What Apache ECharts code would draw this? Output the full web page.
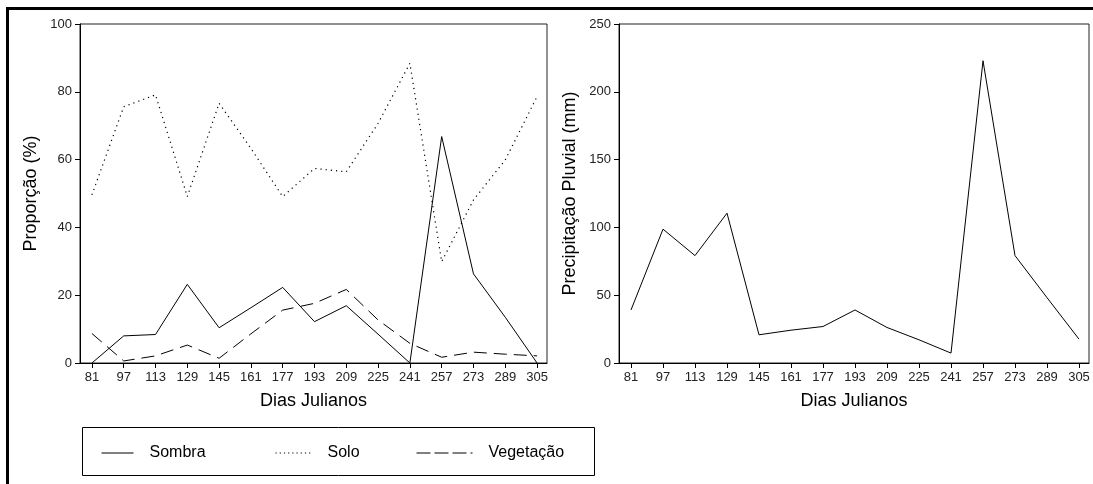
<!DOCTYPE html>
<html>
<head>
<meta charset="utf-8">
<script src="https://cdn.jsdelivr.net/npm/echarts@6/dist/echarts.min.js"></script>
<style>
html,body{margin:0;padding:0;background:#fff;}
#c{width:1093px;height:484px;}
</style>
</head>
<body>
<div id="c"></div>
<script>
const days = [81, 97, 113, 129, 145, 161, 177, 193, 209, 225, 241, 257, 273, 289, 305];
const sombra = [0, 8.0, 8.4, 23.2, 10.4, 16.3, 22.3, 12.2, 16.9, 8.5, 0, 66.8, 26.3, 13.5, 0];
const solo = [49.6, 75.6, 79.1, 49.1, 76.6, 63.3, 49.1, 57.4, 56.4, 70.7, 88.4, 29.9, 48.1, 59.9, 78.6];
const vegetacao = [8.7, 0.6, 2.1, 5.3, 1.4, 8.6, 15.6, 17.6, 21.7, 12.7, 5.8, 1.7, 3.2, 2.6, 2.1];
const precipitacao = [39.1, 98.7, 79.2, 110.5, 20.8, 24.2, 26.9, 39.1, 26.2, 17.1, 7.3, 222.9, 79.2, 48.2, 17.6];
const propTicks = [0, 20, 40, 60, 80, 100];
const precTicks = [0, 50, 100, 150, 200, 250];

const FONT = "'Liberation Sans', Arial, sans-serif";
const pairs = arr => days.map((d, i) => [d, arr[i]]);

function xAxis(gridIndex) {
  return {
    type: 'value', gridIndex, min: 75, max: 310,
    name: 'Dias Julianos', nameLocation: 'middle', nameGap: 29,
    nameTextStyle: { fontFamily: FONT, fontSize: 18, color: '#000' },
    axisLine: { show: true, lineStyle: { color: '#000', width: 1 } },
    axisTick: { show: true, inside: false, length: 5, customValues: days, lineStyle: { color: '#000' } },
    axisLabel: { customValues: days, fontFamily: FONT, fontSize: 13, color: '#222', margin: 8 },
    splitLine: { show: false }
  };
}
function yAxis(gridIndex, max, interval, name, ticks) {
  return {
    type: 'value', gridIndex, min: 0, max, interval,
    name, nameLocation: 'middle', nameGap: 40, nameRotate: 90,
    nameTextStyle: { fontFamily: FONT, fontSize: 18, color: '#000' },
    axisLine: { show: true, lineStyle: { color: '#000', width: 1 } },
    axisTick: { show: true, inside: false, length: 5, customValues: ticks, lineStyle: { color: '#000' } },
    axisLabel: { customValues: ticks, fontFamily: FONT, fontSize: 13, color: '#222', margin: 8 },
    splitLine: { show: false }
  };
}
function legendItem(name, left, itemWidth, dash) {
  return {
    data: [name], left, top: 445, itemWidth, itemHeight: 14, padding: 0,
    itemStyle: { color: 'rgba(0,0,0,0)', borderColor: 'rgba(0,0,0,0)', borderWidth: 0, opacity: 0 },
    lineStyle: { width: 1, type: dash },
    textStyle: { fontFamily: FONT, fontSize: 16, color: '#000', padding: [0, 0, 0, 11] },
    selectedMode: false
  };
}

const chart = echarts.init(document.getElementById('c'), null, { renderer: 'canvas' });
chart.setOption({
  backgroundColor: '#fff',
  animation: false,
  grid: [
    { left: 80, top: 24, width: 467, height: 339, show: true, borderColor: '#222', borderWidth: 1, backgroundColor: 'transparent' },
    { left: 619, top: 24, width: 470, height: 339, show: true, borderColor: '#222', borderWidth: 1, backgroundColor: 'transparent' }
  ],
  xAxis: [xAxis(0), xAxis(1)],
  yAxis: [
    yAxis(0, 100, 20, 'Proporção (%)', propTicks),
    yAxis(1, 250, 50, 'Precipitação Pluvial (mm)', precTicks)
  ],
  legend: [
    legendItem('Sombra', 101, 32, 'solid'),
    legendItem('Solo', 275, 36, [1.2, 3]),
    legendItem('Vegetação', 416, 56, [14, 4])
  ],
  graphic: [
    { type: 'rect', shape: { x: 82.5, y: 427.5, width: 512, height: 48 }, style: { fill: 'none', stroke: '#000', lineWidth: 1 }, silent: true },
    { type: 'rect', shape: { x: 6, y: 7, width: 1087, height: 3 }, style: { fill: '#000' }, silent: true },
    { type: 'rect', shape: { x: 6, y: 7, width: 3, height: 477 }, style: { fill: '#000' }, silent: true }
  ],
  series: [
    { name: 'Sombra', type: 'line', xAxisIndex: 0, yAxisIndex: 0, data: pairs(sombra), symbol: 'none',
      lineStyle: { color: '#000', width: 1, type: 'solid' }, itemStyle: { color: '#000' } },
    { name: 'Solo', type: 'line', xAxisIndex: 0, yAxisIndex: 0, data: pairs(solo), symbol: 'none',
      lineStyle: { color: '#000', width: 1.2, type: [1.2, 4] }, itemStyle: { color: '#000' } },
    { name: 'Vegetação', type: 'line', xAxisIndex: 0, yAxisIndex: 0, data: pairs(vegetacao), symbol: 'none',
      lineStyle: { color: '#000', width: 1, type: [13, 7] }, itemStyle: { color: '#000' } },
    { name: 'Precipitação', type: 'line', xAxisIndex: 1, yAxisIndex: 1, data: pairs(precipitacao), symbol: 'none',
      lineStyle: { color: '#000', width: 1, type: 'solid' }, itemStyle: { color: '#000' } }
  ]
});
</script>
</body>
</html>
